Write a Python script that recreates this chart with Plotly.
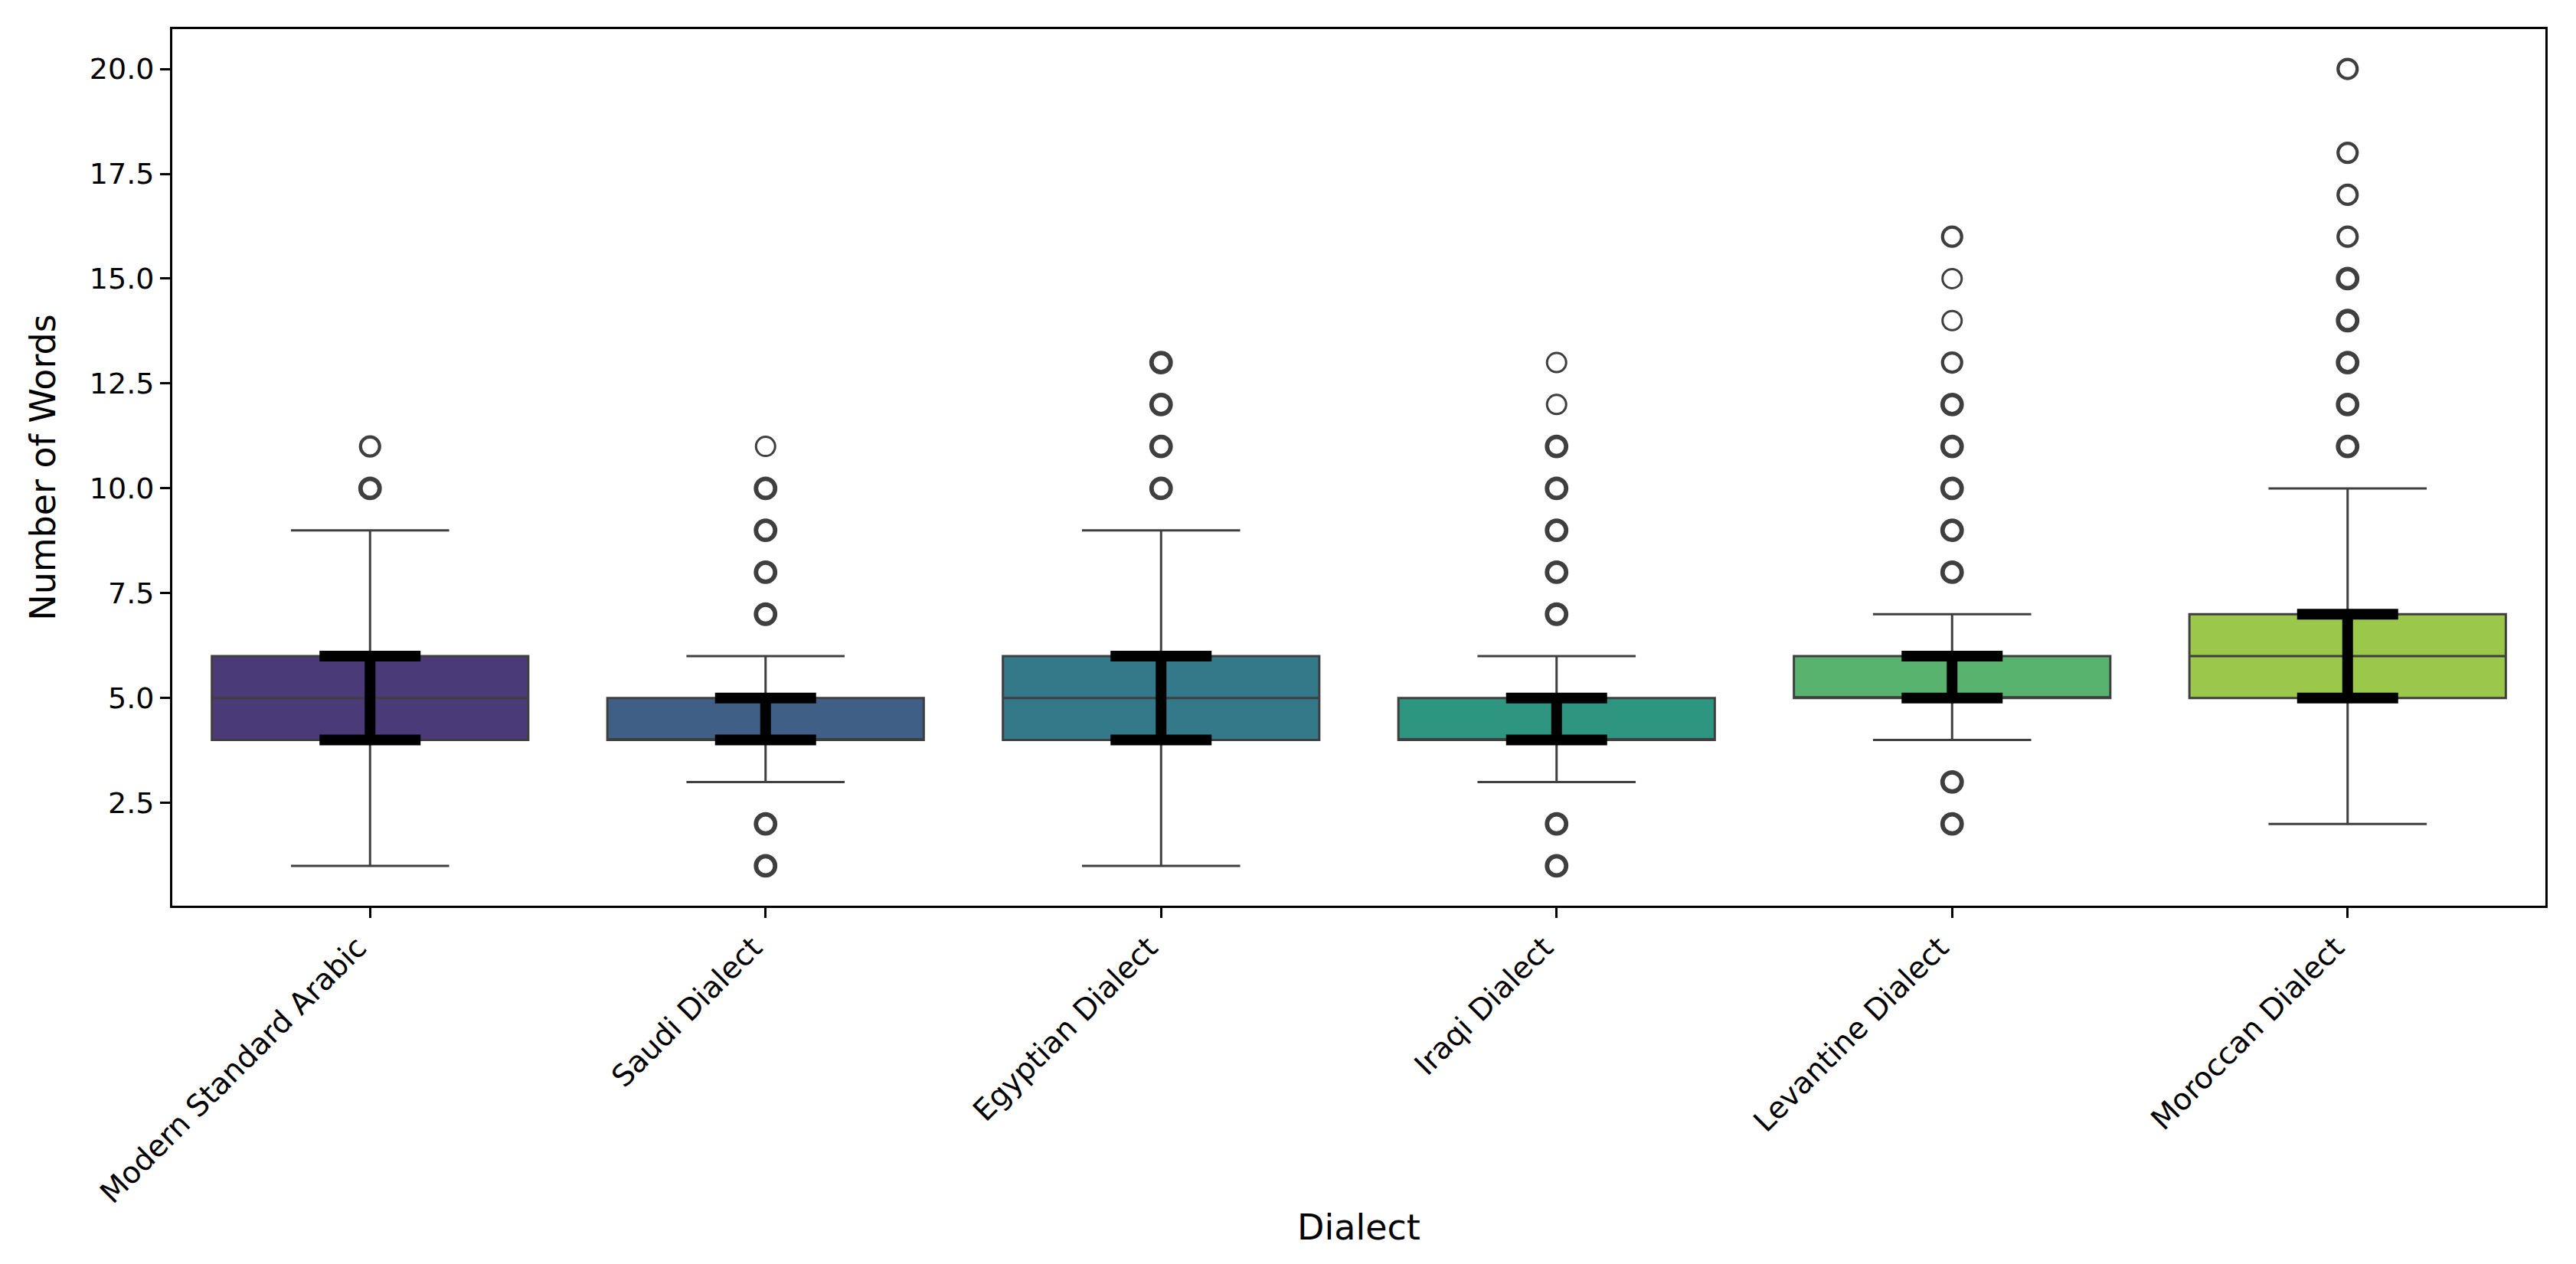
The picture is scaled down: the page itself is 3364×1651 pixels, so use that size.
import plotly.graph_objects as go

# ---- data ----
dialects = ["Modern Standard Arabic", "Saudi Dialect", "Egyptian Dialect",
            "Iraqi Dialect", "Levantine Dialect", "Moroccan Dialect"]
q1 = [4, 4, 4, 4, 5, 5]
median = [5, 4, 5, 4, 5, 6]
q3 = [6, 5, 6, 5, 6, 7]
whisker_low = [1, 3, 1, 3, 4, 2]
whisker_high = [9, 6, 9, 6, 7, 10]
interval_low = [4, 4, 4, 4, 5, 5]
interval_high = [6, 5, 6, 5, 6, 7]

outlier_values = [
    [10, 11],
    [1, 2, 7, 8, 9, 10, 11],
    [10, 11, 12, 13],
    [1, 2, 7, 8, 9, 10, 11, 12, 13],
    [2, 3, 8, 9, 10, 11, 12, 13, 14, 15, 16],
    [11, 12, 13, 14, 15, 16, 17, 18, 20],
]
# estimated number of observations stacked at each outlier value
outlier_counts = [
    [10, 3],
    [10, 10, 10, 10, 10, 10, 1],
    [10, 10, 10, 10],
    [10, 10, 10, 10, 10, 10, 10, 1, 1],
    [10, 10, 10, 10, 10, 10, 10, 3, 1, 1, 2],
    [10, 10, 10, 10, 10, 2, 3, 3, 2],
]

colors = ["#4b3a78", "#3f5f86", "#33798a", "#2e9580", "#58b36f", "#9bc74b"]
edge = "#3f3f3f"

fig = go.Figure()

for i, d in enumerate(dialects):
    fig.add_trace(go.Box(
        x=[d], q1=[q1[i]], median=[median[i]], q3=[q3[i]],
        lowerfence=[whisker_low[i]], upperfence=[whisker_high[i]],
        boxpoints=False, width=0.8, whiskerwidth=0.5,
        fillcolor=colors[i], line=dict(color=edge, width=3),
        showlegend=False, hoverinfo="skip",
    ))

for i, d in enumerate(dialects):
    lw = [3 if c == 1 else (4.2 if c <= 3 else 5.8) for c in outlier_counts[i]]
    fig.add_trace(go.Scatter(
        x=[d] * len(outlier_values[i]), y=outlier_values[i], mode="markers",
        marker=dict(symbol="circle-open", size=25, color=edge,
                    line=dict(color=edge, width=lw)),
        showlegend=False, hoverinfo="skip",
    ))

fig.add_trace(go.Scatter(
    x=dialects, y=interval_low, mode="markers",
    marker=dict(size=1, color="rgba(0,0,0,0)"),
    error_y=dict(type="data", symmetric=False,
                 array=[h - l for h, l in zip(interval_high, interval_low)],
                 arrayminus=[0] * len(dialects),
                 color="black", thickness=14, width=66),
    showlegend=False, hoverinfo="skip",
))

axis_common = dict(showline=True, linecolor="black", linewidth=3, mirror=True,
                   ticks="outside", ticklen=13, tickwidth=3, tickcolor="black",
                   showgrid=False, zeroline=False)

fig.update_layout(
    width=3364, height=1651,
    margin=dict(l=217, r=48, t=30, b=476),
    paper_bgcolor="white", plot_bgcolor="white",
    boxmode="overlay",
    font=dict(family="DejaVu Sans", color="black"),
    xaxis=dict(**axis_common, type="category", range=[-0.5, 5.5], tickangle=-45,
               ticklabelshift=-16,
               tickfont=dict(family="DejaVu Sans", size=39, color="black"),
               title=dict(text="Dialect", font=dict(size=46, family="DejaVu Sans"),
                          standoff=8)),
    yaxis=dict(**axis_common, range=[0.05, 20.95],
               tickvals=[2.5, 5, 7.5, 10, 12.5, 15, 17.5, 20],
               tickformat=".1f",
               tickfont=dict(family="DejaVu Sans", size=38, color="black"),
               title=dict(text="Number of Words", font=dict(size=46, family="DejaVu Sans"),
                          standoff=30)),
)

fig.write_html("out.html")
